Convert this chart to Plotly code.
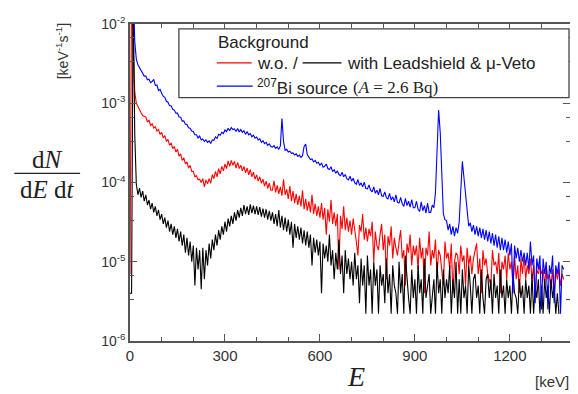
import plotly.graph_objects as go

# ---------------- data (values in units of 1e-6 keV^-1 s^-1) ----------------
UNIT = 1e-6
energy_keV = list(range(0, 1375, 5))  # 0 ... 1370 keV, 5 keV bins

bi207_source = [
    30000, 30000, 30000, 6000, 3600, 3050, 2800, 2500, 2400, 2200,
    2200, 1980, 2010, 1820, 1880, 2000, 1680, 1700, 1450, 1500,
    1340, 1230, 1190, 1060, 1030, 930, 930, 840, 820, 750,
    750, 670, 665, 595, 600, 545, 540, 490, 485, 445,
    440, 400, 400, 365, 385, 345, 355, 330, 345, 320,
    335, 310, 345, 340, 375, 360, 405, 395, 430, 415,
    460, 440, 485, 450, 495, 465, 475, 440, 480, 435,
    465, 430, 450, 405, 440, 400, 415, 378, 395, 362,
    375, 345, 355, 322, 338, 310, 322, 295, 308, 285,
    280, 292, 270, 282, 262, 290, 640, 330, 255, 262,
    243, 248, 233, 236, 222, 230, 214, 222, 208, 218,
    285, 305, 225, 208, 195, 198, 182, 190, 175, 180,
    165, 176, 156, 160, 171, 150, 146, 158, 137, 145,
    131, 140, 126, 122, 135, 118, 126, 112, 108, 120,
    104, 113, 99, 95, 109, 92, 99, 88, 101, 84,
    83, 93, 80, 76, 88, 73, 80, 70, 84, 68,
    67, 76, 64, 62, 73, 60, 66, 57, 70, 56,
    55, 65, 54, 50, 63, 51, 58, 49, 61, 48,
    48, 58, 46, 43, 57, 44, 51, 41, 55, 42,
    42, 52, 48, 75, 270, 820, 430, 95, 40, 34,
    33, 25, 30, 22, 28, 21, 27, 23, 32, 80,
    185, 115, 75, 48, 28, 31, 24, 29, 22, 28,
    21, 27, 20, 26, 19, 25, 18, 24, 17, 23,
    16, 22, 15, 21, 14, 20, 14, 19, 13, 18,
    12, 17, 4, 16, 11, 15, 10, 14, 10, 13,
    9, 13, 8, 18, 9, 12, 3, 11, 8, 12,
    2.5, 11, 7, 10, 2.5, 9, 7, 12, 3, 9,
    7, 10, 2.2, 9, 8,
]

background_without = [
    7, 30000, 5000, 1400, 1000, 900, 820, 760, 700, 680,
    670, 585, 610, 525, 550, 485, 505, 445, 465, 405,
    430, 365, 390, 330, 350, 295, 315, 268, 285, 242,
    262, 215, 230, 190, 205, 172, 182, 152, 165, 138,
    138, 118, 122, 108, 110, 100, 112, 88, 108, 96,
    112, 98, 126, 112, 138, 118, 150, 128, 160, 140,
    170, 150, 188, 160, 190, 165, 185, 152, 180, 150,
    165, 140, 160, 132, 152, 125, 145, 118, 135, 110,
    125, 104, 118, 98, 110, 90, 104, 84, 98, 80,
    80, 105, 75, 92, 72, 88, 68, 110, 70, 82,
    62, 90, 58, 78, 55, 72, 52, 68, 50, 80,
    46, 62, 44, 58, 42, 70, 40, 54, 38, 50,
    36, 55, 34, 48, 22, 46, 32, 60, 30, 42,
    28, 40, 8, 38, 26, 50, 25, 36, 24, 33,
    22, 35, 26, 18, 12, 29, 24, 40, 19, 27,
    18, 26, 21, 32, 10, 24, 16, 14, 22, 30,
    14, 22, 6, 21, 16, 28, 11, 20, 15, 12,
    18, 25, 11, 14, 5, 17, 13, 22, 9, 16,
    12, 16, 8, 20, 11, 15, 4, 15, 12, 24,
    9, 14, 11, 19, 7, 14, 12, 8, 5, 18,
    11, 13, 8, 17, 4, 10, 13, 12, 7, 16,
    10, 12, 5, 15, 9, 12, 7, 11, 14, 17,
    7, 11, 4, 14, 9, 11, 7, 6, 5, 14,
    9, 10, 7, 13, 4, 10, 8, 12, 6, 13,
    8, 10, 5, 12, 6, 9, 4, 11, 7, 12,
    6, 9, 7, 11, 6, 9, 3.5, 8, 7, 9,
    7, 8, 5, 9, 6, 7, 5, 8, 3.5, 8,
    6, 8, 5, 7, 6,
]

background_with_shield = [
    4, 4, 30000, 400, 95, 70, 85, 65, 78, 58,
    70, 52, 60, 46, 55, 42, 50, 38, 45, 34,
    40, 30, 36, 27, 33, 24, 30, 22, 28, 20,
    26, 18, 24, 16, 22, 13, 20, 12, 18, 10,
    16, 5, 15, 8, 14, 4.5, 15, 6, 14, 9,
    17, 11, 19, 14, 22, 16, 25, 19, 28, 22,
    32, 24, 35, 28, 38, 30, 42, 33, 45, 36,
    48, 38, 52, 40, 50, 39, 53, 41, 51, 40,
    50, 39, 49, 37, 47, 36, 46, 34, 44, 33,
    42, 30, 40, 28, 45, 27, 38, 25, 36, 24,
    34, 22, 32, 15, 30, 20, 28, 19, 27, 17,
    25, 16, 24, 15, 22, 9, 20, 13, 19, 12,
    18, 4, 17, 11, 16, 10, 22, 9, 14, 6,
    13, 8, 19, 7, 12, 4, 14, 7, 11, 6,
    10, 5, 13, 6, 9, 3, 11, 5, 9, 2.2,
    12, 5, 8, 2.2, 10, 5, 8, 2.2, 9, 5,
    7, 3, 11, 4, 7, 2.2, 9, 5, 4, 2.2,
    10, 4, 7, 2.2, 12, 6, 3.5, 2.2, 8, 3.5,
    6, 2.2, 9, 4, 6, 2.2, 11, 3.5, 5, 7,
    2.2, 3.5, 6, 2.2, 10, 4, 6, 2.2, 8, 3.5,
    6, 4, 9, 2.2, 6, 3.5, 10, 2.2, 6, 2.2,
    8, 3.5, 5, 2.2, 9, 5, 2.2, 6, 7, 3.5,
    5, 2.2, 8, 3.5, 2.2, 6, 7, 3.5, 6, 2.2,
    7, 3.5, 5, 2.2, 8, 3.5, 5, 2.2, 6, 3.5,
    5, 2.2, 7, 4, 3.5, 2.2, 6, 3.5, 5, 2.2,
    6, 3.5, 5, 2.2, 7, 2.2, 5, 3.5, 6, 2.2,
    5, 2.2, 6, 3.5, 5, 2.2, 6, 3.5, 5, 2.2,
    4, 2.2, None, None, None,
]

x_tick_vals = [0, 300, 600, 900, 1200]
x_minor_vals = [100, 200, 400, 500, 700, 800, 1000, 1100, 1300]
y_tick_vals = [1e-6, 1e-5, 1e-4, 1e-3, 1e-2]
y_tick_text = ["10<sup>-6</sup>", "10<sup>-5</sup>", "10<sup>-4</sup>",
               "10<sup>-3</sup>", "10<sup>-2</sup>"]
y_minor_vals = [m * d for d in (1e-6, 1e-5, 1e-4, 1e-3) for m in (3.33, 6.67)]


def scaled(vals):
    return [None if v is None else v * UNIT for v in vals]


# ---------------- figure ----------------
# page has an 8px body margin: figure drawn at (8, 8), so size it to fill the window
OFF = 8
PAGE_W, PAGE_H = 578, 394
W, H = PAGE_W - OFF, PAGE_H - OFF
PL, PR, PT, PB = 130, 571, 14, 341          # plot box in page pixels
L, T = PL - OFF, PT - OFF
R, B = PAGE_W - PR, PAGE_H - PB
PW, PH = PR - PL, PB - PT


def px(x):
    return (x - PL) / PW


def py(y):
    return (PB - y) / PH


fig = go.Figure()
fig.add_trace(go.Scatter(x=energy_keV, y=scaled(background_without), mode="lines",
                         line=dict(color="#ff0000", width=1.1), showlegend=False))
fig.add_trace(go.Scatter(x=energy_keV, y=scaled(background_with_shield), mode="lines",
                         line=dict(color="#000000", width=1.1), showlegend=False))
fig.add_trace(go.Scatter(x=energy_keV, y=scaled(bi207_source), mode="lines",
                         line=dict(color="#0000ff", width=1.1), showlegend=False))

axis_col = "#555555"
sans = "Liberation Sans, Arial, sans-serif"
serif = "Liberation Serif, Times New Roman, serif"

fig.update_xaxes(range=[0, 1390], tickvals=x_tick_vals, ticks="inside", ticklen=7,
                 tickwidth=1.2, tickcolor=axis_col, showline=True, linecolor=axis_col,
                 linewidth=1.5, mirror="ticks", showgrid=False, zeroline=False,
                 ticklabeloverflow="allow",
                 tickfont=dict(family=sans, size=15, color="#333333"),
                 minor=dict(tickvals=x_minor_vals, ticks="inside", ticklen=4,
                            tickcolor=axis_col, showgrid=False))
fig.update_yaxes(type="log", range=[-6.0004, -1.9996], tickvals=y_tick_vals,
                 ticktext=y_tick_text, ticklabeloverflow="allow",
                 ticks="inside", ticklen=7, tickwidth=1.2, tickcolor=axis_col,
                 showline=True, linecolor=axis_col, linewidth=1.5, mirror="ticks",
                 showgrid=False, zeroline=False,
                 tickfont=dict(family=sans, size=14, color="#333333"),
                 minor=dict(tickvals=y_minor_vals, ticks="inside", ticklen=4,
                            tickcolor=axis_col, showgrid=False))

shapes = []
annotations = []
txt = "#222222"

# legend box
shapes.append(dict(type="rect", xref="paper", yref="paper", x0=px(179), x1=px(570),
                   y0=py(90), y1=py(19), line=dict(color="#444444", width=1.3),
                   fillcolor="white", layer="above"))
annotations.append(dict(xref="paper", yref="paper", x=px(216), y=py(33), xanchor="left",
                        yanchor="middle", showarrow=False, text="Background",
                        font=dict(family=sans, size=17, color=txt)))
shapes.append(dict(type="line", xref="paper", yref="paper", x0=px(217), x1=px(252),
                   y0=py(54), y1=py(54), line=dict(color="#ff0000", width=1.2)))
annotations.append(dict(xref="paper", yref="paper", x=px(255), y=py(55), xanchor="left",
                        yanchor="middle", showarrow=False, text="w.o. /",
                        font=dict(family=sans, size=17, color=txt)))
shapes.append(dict(type="line", xref="paper", yref="paper", x0=px(303), x1=px(342),
                   y0=py(54), y1=py(54), line=dict(color="#000000", width=1.2)))
annotations.append(dict(xref="paper", yref="paper", x=px(345), y=py(55), xanchor="left",
                        yanchor="middle", showarrow=False,
                        text="with Leadshield & \u03bc-Veto",
                        font=dict(family=sans, size=17, color=txt)))
shapes.append(dict(type="line", xref="paper", yref="paper", x0=px(217), x1=px(253),
                   y0=py(78), y1=py(78), line=dict(color="#0000ff", width=1.2)))
annotations.append(dict(xref="paper", yref="paper", x=px(255), y=py(79), xanchor="left",
                        yanchor="middle", showarrow=False,
                        text="<sup>207</sup>Bi source",
                        font=dict(family=sans, size=17, color=txt)))
annotations.append(dict(xref="paper", yref="paper", x=px(352), y=py(79), xanchor="left",
                        yanchor="middle", showarrow=False,
                        text="(<i>A</i> = 2.6 Bq)",
                        font=dict(family=serif, size=17, color=txt)))

# y-axis label: dN / (dE dt)
annotations.append(dict(xref="paper", yref="paper", x=px(47), y=py(154), xanchor="center",
                        yanchor="middle", showarrow=False, text="d<i>N</i>",
                        font=dict(family=serif, size=25, color=txt)))
shapes.append(dict(type="line", xref="paper", yref="paper", x0=px(14), x1=px(80),
                   y0=py(168), y1=py(168), line=dict(color=txt, width=1.2)))
annotations.append(dict(xref="paper", yref="paper", x=px(47), y=py(185), xanchor="center",
                        yanchor="middle", showarrow=False, text="d<i>E</i> d<i>t</i>",
                        font=dict(family=serif, size=25, color=txt)))
annotations.append(dict(xref="paper", yref="paper", x=px(62), y=py(42), xanchor="center",
                        yanchor="middle", showarrow=False, textangle=-90,
                        text="[keV<sup>-1</sup>s<sup>-1</sup>]",
                        font=dict(family=sans, size=14, color="#333333")))

# x-axis label
annotations.append(dict(xref="paper", yref="paper", x=px(357), y=py(378), xanchor="center",
                        yanchor="middle", showarrow=False, text="<i>E</i>",
                        font=dict(family=serif, size=28, color=txt)))
annotations.append(dict(xref="paper", yref="paper", x=px(553), y=py(383), xanchor="center",
                        yanchor="middle", showarrow=False, text="[keV]",
                        font=dict(family=sans, size=15, color="#333333")))

fig.update_layout(width=W, height=H, margin=dict(l=L, r=R, t=T, b=B),
                  paper_bgcolor="white", plot_bgcolor="white",
                  shapes=shapes, annotations=annotations, showlegend=False)

fig.write_html("out.html")
